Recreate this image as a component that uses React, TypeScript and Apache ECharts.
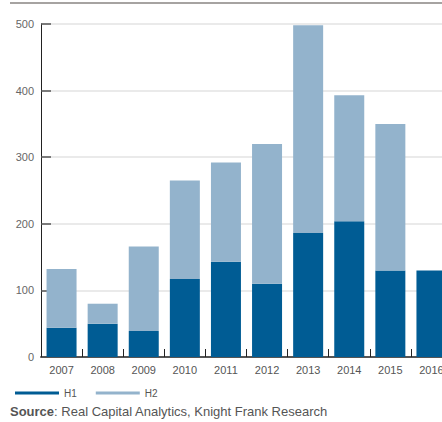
import React, { useEffect, useRef } from "react";
import * as echarts from "echarts";

const categories = ["2007", "2008", "2009", "2010", "2011", "2012", "2013", "2014", "2015", "2016"];
const h1Values = [44, 50, 39, 117, 143, 110, 186, 204, 130, 130];
const h2Values = [88, 30, 127, 148, 149, 210, 312, 189, 220, 0];
const yTicks = [0, 100, 200, 300, 400, 500];

const H1_COLOR = "#005c94";
const H2_COLOR = "#93b3cc";
const FONT = "Liberation Sans, Arial, sans-serif";

export default function App() {
  const ref = useRef<HTMLDivElement>(null);
  useEffect(() => {
    document.body.style.margin = "0";
    const chart = echarts.init(ref.current!, null, { renderer: "svg" });
    chart.setOption({
      animation: false,
      textStyle: { fontFamily: FONT },
      grid: { left: 41, right: 0, top: 24, bottom: 65, containLabel: false },
      legend: {
        left: 10,
        top: 383,
        icon: "rect",
        itemWidth: 44,
        itemHeight: 3,
        itemGap: 19,
        textStyle: { color: "#555", fontSize: 10, fontFamily: FONT },
        data: ["H1", "H2"],
      },
      xAxis: {
        type: "category",
        data: categories,
        axisLine: { lineStyle: { color: "#555", width: 2 } },
        axisTick: { show: true, inside: true, length: 8, lineStyle: { color: "#222", width: 1 } },
        axisLabel: { color: "#555", fontSize: 11, margin: 7 },
      },
      yAxis: {
        type: "value",
        min: yTicks[0],
        max: yTicks[yTicks.length - 1],
        interval: 100,
        axisLine: { show: true, lineStyle: { color: "#222", width: 1 } },
        axisTick: { show: true, inside: true, length: 10, lineStyle: { color: "#555", width: 1.5 } },
        axisLabel: { color: "#666", fontSize: 11, margin: 7 },
        splitLine: { show: true, lineStyle: { color: "#e3e3e3", width: 1.5 } },
      },
      series: [
        {
          name: "H1",
          type: "bar",
          stack: "total",
          barWidth: 30,
          data: h1Values,
          itemStyle: { color: H1_COLOR },
        },
        {
          name: "H2",
          type: "bar",
          stack: "total",
          barWidth: 30,
          data: h2Values,
          itemStyle: { color: H2_COLOR },
        },
      ],
      graphic: [
        {
          type: "rect",
          shape: { x: 10, y: 2, width: 442, height: 2 },
          style: { fill: "#a6a3a1" },
        },
        {
          type: "text",
          left: 10,
          top: 405,
          style: {
            text: "{b|Source}: Real Capital Analytics, Knight Frank Research",
            fill: "#555",
            fontSize: 13,
            fontFamily: FONT,
            rich: {
              b: { fontWeight: "bold", fill: "#555", fontSize: 13, fontFamily: FONT },
            },
          },
        },
      ],
    });
    return () => chart.dispose();
  }, []);
  return (
    <div style={{ position: "absolute", left: 0, top: 0, width: 442, height: 422, overflow: "hidden" }}>
      <div ref={ref} style={{ width: 452, height: 422 }} />
    </div>
  );
}
